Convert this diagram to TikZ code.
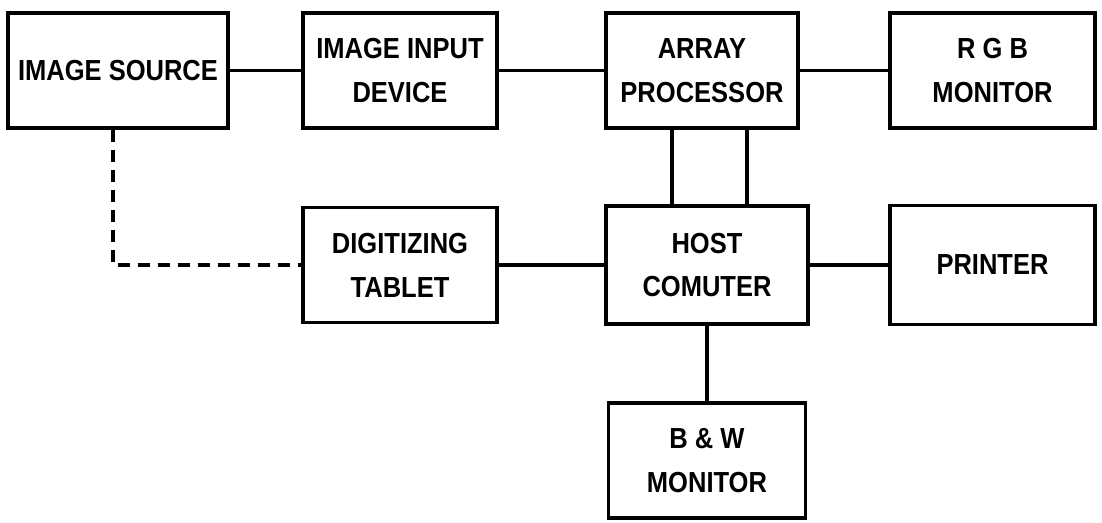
\documentclass[tikz,border=0pt]{standalone}
\usepackage{fontspec}
\setmainfont{Liberation Sans}[FakeStretch=0.88]

\begin{document}
\begin{tikzpicture}[
  blk/.style={draw,line width=1.8pt,minimum height=2.3cm,align=center,inner sep=2pt,
    font=\fontsize{16.5}{25}\selectfont\bfseries},
  wire/.style={line width=1.8pt}]
\useasboundingbox (0,0) rectangle (22.04,-10.44);
\node[blk,minimum width=4.4cm] (src) at (2.36,-1.41) {IMAGE SOURCE};
\node[blk,minimum width=3.88cm] (inp) at (8.0,-1.41) {IMAGE INPUT\\DEVICE};
\node[blk,minimum width=3.84cm] (arr) at (14.04,-1.41) {ARRAY\\PROCESSOR};
\node[blk,minimum width=4.1cm] (rgb) at (19.85,-1.41) {R G B\\MONITOR};
\node[blk,minimum width=3.88cm] (dig) at (8.0,-5.3) {DIGITIZING\\TABLET};
\node[blk,minimum width=4.04cm,minimum height=2.36cm] (host) at (14.14,-5.3) {HOST\\COMUTER};
\node[blk,minimum width=4.1cm,minimum height=2.38cm] (prn) at (19.85,-5.3) {PRINTER};
\node[blk,minimum width=3.94cm] (bw) at (14.14,-9.21) {B \& W\\MONITOR};
% top row
\draw[wire] (src.east) -- (inp.west);
\draw[wire] (inp.east) -- (arr.west);
\draw[wire] (arr.east) -- (rgb.west);
% array processor to host
\draw[wire] ([xshift=-0.6cm]arr.south) -- ([xshift=-0.6cm]arr.south |- host.north);
\draw[wire] ([xshift=0.9cm]arr.south) -- ([xshift=0.9cm]arr.south |- host.north);
% bottom row
\draw[wire] (dig.east) -- (host.west);
\draw[wire] (host.east) -- (prn.west);
\draw[wire] (host.south) -- (bw.north);
\draw[wire,dash pattern=on 0.24cm off 0.16cm] ([xshift=-0.1cm]src.south) |- (dig.west);
\end{tikzpicture}
\end{document}
